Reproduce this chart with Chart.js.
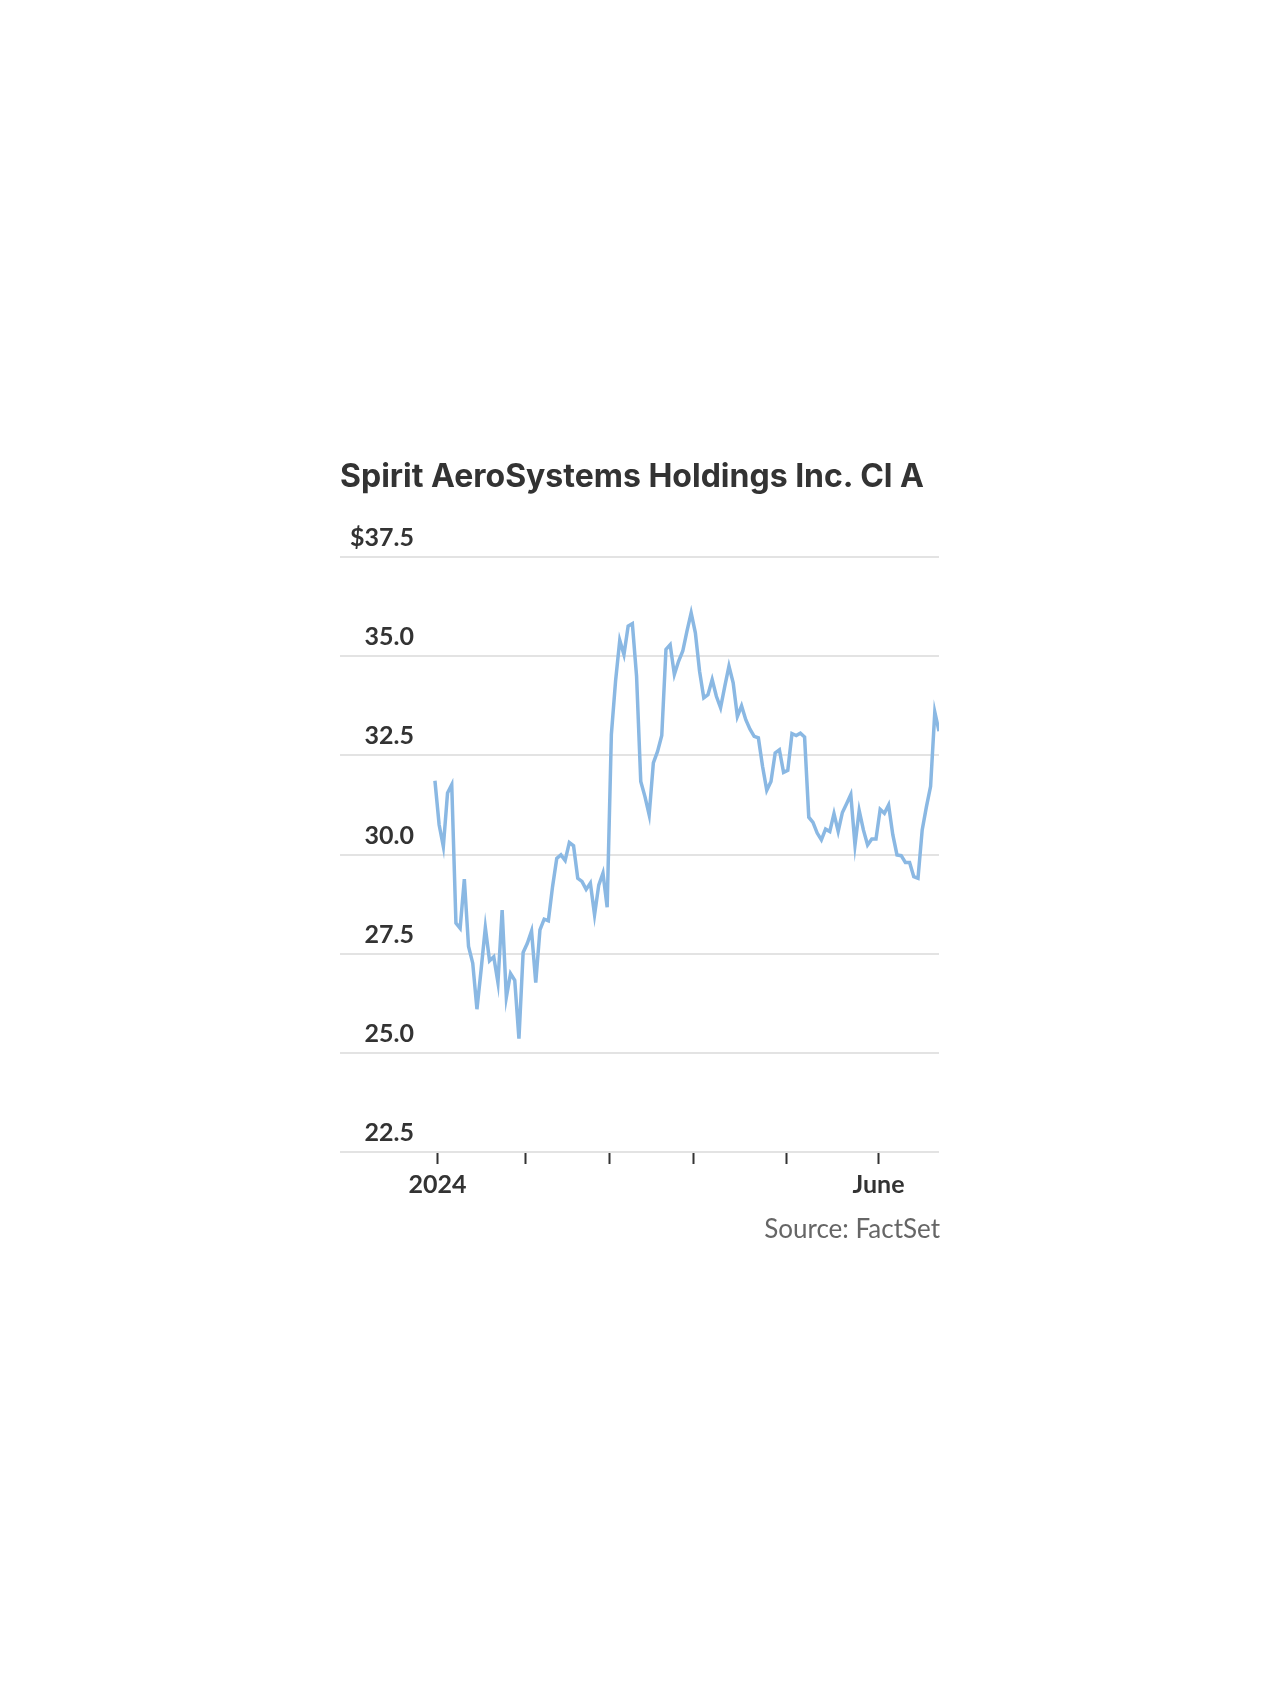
<!DOCTYPE html>
<html>
<head>
<meta charset="utf-8">
<script src="https://cdn.jsdelivr.net/npm/chart.js@4.4.1/dist/chart.umd.min.js"></script>
<style>
  html, body { margin: 0; padding: 0; background: #fff; }
  #page { position: relative; width: 1280px; height: 1707px; overflow: hidden; }
  #title {
    position: absolute; left: 340px; top: 460px; margin: 0;
    font: 700 32px/32px Inter, Lato, sans-serif; color: #333; white-space: nowrap;
  }
  #source {
    position: absolute; right: 340px; top: 1215px;
    font: 400 26px/26px Lato, sans-serif; color: #666; white-space: nowrap;
  }
  #wrap { position: absolute; left: 0; top: 0; width: 1280px; height: 1707px; }
</style>
</head>
<body>
<div id="page">
  <div id="wrap"><canvas id="priceChart"></canvas></div>
  <h1 id="title">Spirit AeroSystems Holdings Inc. Cl A</h1>
  <div id="source">Source: FactSet</div>
</div>
<script>
// daily closes, Jan 2 2024 onward (one per trading day)
const closes = [
  31.86, 30.75, 30.20, 31.55, 31.76, 28.27, 28.14, 29.38, 27.68, 27.26,
  26.10, 27.10, 28.16, 27.32, 27.42, 26.77, 28.60, 26.40, 27.00, 26.83,
  25.36, 27.53, 27.76, 28.07, 26.77, 28.10, 28.37, 28.33, 29.19, 29.90,
  29.99, 29.85, 30.30, 30.22, 29.40, 29.32, 29.12, 29.28, 28.48, 29.23,
  29.53, 28.67, 33.02, 34.37, 35.40, 35.04, 35.76, 35.82, 34.50, 31.84,
  31.46, 31.00, 32.31, 32.60, 33.00, 35.17, 35.29, 34.54, 34.87, 35.13,
  35.63, 36.09, 35.59, 34.62, 33.95, 34.03, 34.41, 33.99, 33.70, 34.24,
  34.75, 34.33, 33.48, 33.75, 33.40, 33.16, 32.98, 32.94, 32.22, 31.62,
  31.84, 32.56, 32.64, 32.07, 32.12, 33.05, 33.00, 33.06, 32.96, 30.94,
  30.81, 30.54, 30.37, 30.64, 30.58, 31.03, 30.58, 31.06, 31.28, 31.51,
  30.24, 31.11, 30.62, 30.24, 30.39, 30.39, 31.14, 31.04, 31.25, 30.50,
  29.99, 29.97, 29.80, 29.80, 29.44, 29.40, 30.62, 31.20, 31.72, 33.59,
  33.11
];

// month starts as trading-day index: Jan, Feb, Mar, Apr, May, Jun
const monthStartIdx = [0, 21, 41, 61, 83, 105];
const monthLabels = ['2024', '', '', '', '', 'June'];
const tickShift = 0.6;

const yTicks = [22.5, 25, 27.5, 30, 32.5, 35, 37.5];

const points = closes.map((v, i) => ({ x: i, y: v }));

Chart.defaults.font.family = 'Lato, sans-serif';
Chart.defaults.color = '#333';

const ctx = document.getElementById('priceChart').getContext('2d');
new Chart(ctx, {
  type: 'line',
  data: {
    datasets: [{
      data: points,
      borderColor: '#8ab8e3',
      borderWidth: 3.5,
      pointRadius: 0,
      tension: 0,
      fill: false
    }]
  },
  options: {
    responsive: true,
    maintainAspectRatio: false,
    animation: false,
    layout: {
      padding: { left: 320, right: 341, top: 557, bottom: 501 }
    },
    plugins: {
      legend: { display: false },
      tooltip: { enabled: false }
    },
    scales: {
      x: {
        type: 'linear',
        min: -22.6,
        max: 120,
        border: { display: false },
        grid: {
          drawOnChartArea: false,
          drawTicks: true,
          tickLength: 12,
          tickWidth: 2,
          tickColor: '#333'
        },
        afterBuildTicks: function(axis) {
          axis.ticks = monthStartIdx.map(v => ({ value: v + tickShift }));
        },
        ticks: {
          autoSkip: false,
          maxRotation: 0,
          padding: 6,
          font: { size: 25, weight: 'bold' },
          color: '#333',
          callback: function(value, index) {
            return monthLabels[index];
          }
        }
      },
      y: {
        min: yTicks[0],
        max: yTicks[yTicks.length - 1],
        border: { display: false },
        grid: {
          color: '#e3e3e3',
          lineWidth: 2,
          drawTicks: false
        },
        afterBuildTicks: function(axis) {
          axis.ticks = yTicks.map(v => ({ value: v }));
        },
        ticks: {
          mirror: true,
          crossAlign: 'far',
          padding: 10,
          labelOffset: -19,
          font: { size: 25, weight: 'bold' },
          color: '#333',
          callback: function(value) {
            const s = value.toFixed(1);
            return value === yTicks[yTicks.length - 1] ? '$' + s : s;
          }
        }
      }
    }
  }
});
</script>
</body>
</html>
